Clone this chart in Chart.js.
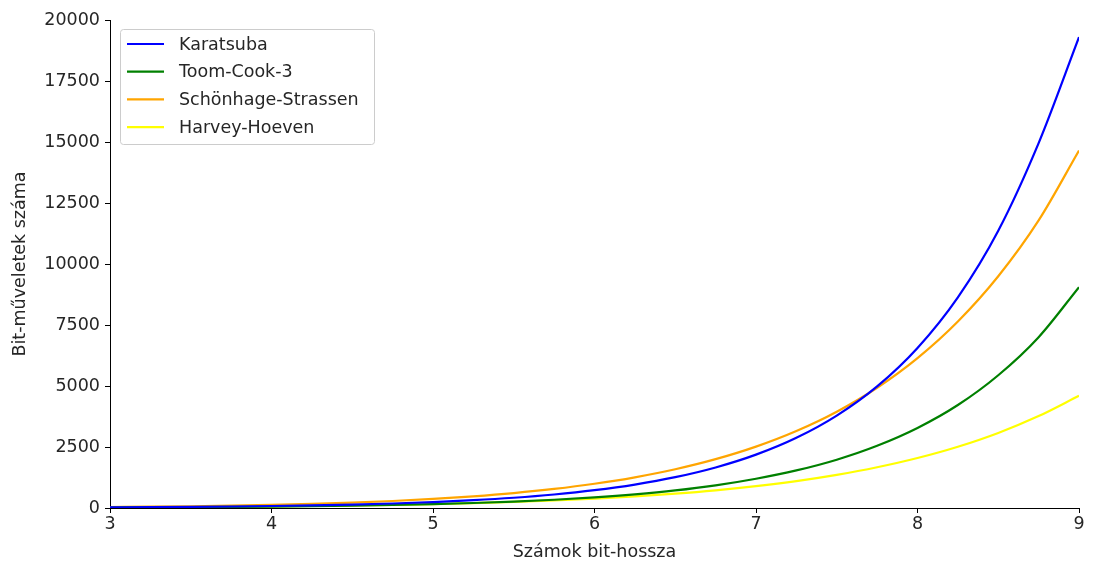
<!DOCTYPE html>
<html lang="hu">
<head>
  <meta charset="UTF-8">
  <title>Szorzási algoritmusok</title>
  <script src="https://cdn.jsdelivr.net/npm/chart.js"></script>
  <style>
    html, body { margin: 0; padding: 0; background: #fff; }
    #wrap { width: 1093px; height: 567px; }
  </style>
</head>
<body>
  <div id="wrap"><canvas id="chart"></canvas></div>

<script>
  // values
  const bitLength = [3, 3.25, 3.5, 3.75, 4, 4.25, 4.5, 4.75, 5, 5.25, 5.5, 5.75, 6,
                     6.25, 6.5, 6.75, 7, 7.25, 7.5, 7.75, 8, 8.25, 8.5, 8.75, 9]
  const karatsuba = [27, 36, 47, 62, 81, 107, 140, 184, 243, 320, 421, 554, 729,
                     959, 1263, 1662, 2187, 2878, 3788, 4985, 6561, 8635, 11364, 14956, 19300]
  const toomCook3 = [21, 27, 35, 45, 57, 74, 95, 123, 158, 204, 262, 338, 435,
                     560, 720, 930, 1200, 1540, 1980, 2550, 3280, 4220, 5440, 7000, 9050]
  const schonhage = [38, 53, 72, 96, 128, 169, 221, 287, 371, 478, 612, 781, 993,
                     1258, 1588, 2001, 2515, 3154, 3946, 4929, 6144, 7645, 9499, 11787, 14650]
  const harvey    = [24, 31, 40, 50, 64, 81, 102, 128, 160, 200, 249, 309, 384,
                     476, 588, 726, 896, 1103, 1358, 1669, 2048, 2511, 3077, 3767, 4600]
  const yTicks = [0, 2500, 5000, 7500, 10000, 12500, 15000, 17500, 20000]

  const FONT = "'DejaVu Sans', sans-serif"
  const TXT = '#262626'
  const SIZE = 17.5

  function series(label, values, color) {
    return {
      label: label,
      data: bitLength.map((x, i) => ({ x: x, y: values[i] })),
      borderColor: color,
      backgroundColor: color,
      borderWidth: 2.2,
      pointRadius: 0,
      cubicInterpolationMode: 'monotone',
      fill: false
    }
  }

  // matplotlib-like legend box in the upper-left corner of the plot
  const boxLegend = {
    id: 'boxLegend',
    afterDraw(chart) {
      const ctx = chart.ctx
      const area = chart.chartArea
      const sets = chart.data.datasets
      const x0 = area.left + 10, y0 = area.top + 9
      const w = 254, rowH = 27.7, h = 115
      ctx.save()
      ctx.fillStyle = 'rgba(255,255,255,0.8)'
      ctx.strokeStyle = '#cccccc'
      ctx.lineWidth = 1
      ctx.beginPath()
      ctx.roundRect(x0 + 0.5, y0 + 0.5, w, h, 3)
      ctx.fill()
      ctx.stroke()
      ctx.font = SIZE + 'px ' + FONT
      ctx.textBaseline = 'middle'
      sets.forEach((ds, i) => {
        const y = y0 + 15 + i * rowH
        ctx.strokeStyle = ds.borderColor
        ctx.lineWidth = 2.2
        ctx.beginPath()
        ctx.moveTo(x0 + 7, y)
        ctx.lineTo(x0 + 44, y)
        ctx.stroke()
        ctx.fillStyle = TXT
        ctx.fillText(ds.label, x0 + 59, y + 1)
      })
      ctx.restore()
    }
  }

  new Chart(document.getElementById('chart'), {
    type: 'line',
    data: {
      datasets: [
        series('Karatsuba', karatsuba, '#0000ff'),
        series('Toom-Cook-3', toomCook3, '#008000'),
        series('Schönhage-Strassen', schonhage, '#ffa500'),
        series('Harvey-Hoeven', harvey, '#ffff00')
      ]
    },
    plugins: [boxLegend],
    options: {
      responsive: true,
      maintainAspectRatio: false,
      animation: false,
      layout: { padding: { top: 20, right: 14, left: 0, bottom: 0 } },
      plugins: {
        legend: { display: false },
        tooltip: { enabled: false }
      },
      scales: {
        x: {
          type: 'linear',
          min: 3,
          max: 9,
          afterFit(scale) { scale.height = 59 },
          ticks: { stepSize: 1, color: TXT, padding: 1, font: { family: FONT, size: SIZE } },
          grid: { drawOnChartArea: false, tickLength: 5, color: '#000', tickColor: '#000' },
          border: { display: true, color: '#000', width: 1 },
          title: {
            display: true,
            text: 'Számok bit-hossza',
            color: TXT,
            font: { family: FONT, size: SIZE },
            padding: { top: 1 }
          }
        },
        y: {
          min: 0,
          max: 20000,
          afterFit(scale) { scale.width = 110 },
          afterBuildTicks(scale) { scale.ticks = yTicks.map(v => ({ value: v })) },
          ticks: {
            color: TXT,
            padding: 5,
            font: { family: FONT, size: SIZE },
            callback: v => String(v)
          },
          grid: { drawOnChartArea: false, tickLength: 5, color: '#000', tickColor: '#000' },
          border: { display: true, color: '#000', width: 1 },
          title: {
            display: true,
            text: 'Bit-műveletek száma',
            color: TXT,
            font: { family: FONT, size: SIZE },
            padding: { top: 10, bottom: 0 }
          }
        }
      }
    }
  })
</script>
</body>
</html>
